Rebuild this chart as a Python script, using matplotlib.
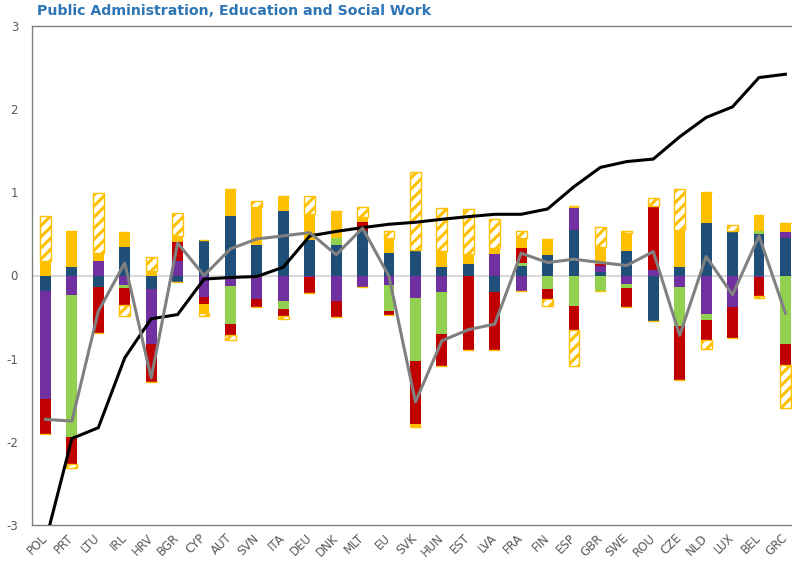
import matplotlib
matplotlib.use("Agg")
import matplotlib.pyplot as plt
import numpy as np

countries = ["POL", "PRT", "LTU", "IRL", "HRV", "BGR", "CYP", "AUT", "SVN", "ITA",
             "DEU", "DNK", "MLT", "EU", "SVK", "HUN", "EST", "LVA", "FRA", "FIN",
             "ESP", "GBR", "SWE", "ROU", "CZE", "NLD", "LUX", "BEL", "GRC"]

blue = [-0.19, 0.108, -0.136, 0.348, -0.16, -0.084, 0.43, 0.72, 0.368, 0.776,
        0.43, 0.368, 0.536, 0.276, 0.308, 0.108, 0.14, -0.20, 0.116, 0.248,
        0.548, 0.04, 0.296, -0.544, 0.10, 0.636, 0.54, 0.50, 0.448]
purple = [-1.29, -0.24, 0.176, -0.11, -0.66, 0.176, -0.26, -0.124, -0.284, -0.304,
          -0.015, -0.304, -0.144, -0.12, -0.272, -0.20, 0.0, 0.256, -0.184, 0.0,
          0.268, 0.08, -0.10, 0.068, -0.144, -0.46, -0.38, -0.024, 0.08]
green = [0.0, -1.70, 0.0, -0.046, 0.0, 0.0, 0.0, -0.46, 0.0, -0.096,
         0.0, 0.088, 0.0, -0.304, -0.758, -0.50, 0.0, 0.0, 0.04, -0.164,
         -0.372, -0.192, -0.052, 0.0, -0.468, -0.072, 0.0, 0.036, -0.824]
red = [-0.42, -0.33, -0.554, -0.204, -0.46, 0.224, -0.08, -0.126, -0.10, -0.09,
       -0.195, -0.20, 0.112, -0.048, -0.76, -0.384, -0.90, -0.70, 0.18, -0.12,
       -0.28, 0.016, -0.228, 0.768, -0.64, -0.24, -0.372, -0.228, -0.248]
orange = [0.176, 0.428, 0.092, 0.172, 0.05, 0.07, -0.11, 0.316, 0.46, 0.184,
          0.306, 0.324, 0.06, 0.18, -0.03, 0.192, 0.116, 0.072, 0.12, 0.192,
          0.024, 0.212, 0.212, 0.0, 0.448, 0.372, 0.0, 0.192, 0.10]
hatched = [0.54, -0.05, 0.722, -0.13, 0.17, 0.28, -0.04, -0.07, 0.072, -0.03,
           0.22, 0.0, 0.12, 0.08, 0.94, 0.508, 0.54, 0.348, 0.08, -0.088,
           -0.432, 0.24, 0.032, 0.10, 0.488, -0.108, 0.068, -0.02, -0.52]

gray_line = [-1.73, -1.75, -0.43, 0.15, -1.23, 0.39, 0.0, 0.32, 0.44, 0.476,
             0.516, 0.25, 0.57, -0.01, -1.52, -0.784, -0.652, -0.584, 0.268, 0.156,
             0.196, 0.156, 0.12, 0.288, -0.72, 0.228, -0.232, 0.476, -0.452]
black_line = [-3.2, -1.96, -1.83, -0.99, -0.52, -0.47, -0.043, -0.024, -0.012, 0.10,
              0.476, 0.53, 0.576, 0.616, 0.64, 0.676, 0.708, 0.736, 0.736, 0.80,
              1.068, 1.30, 1.37, 1.40, 1.668, 1.90, 2.028, 2.38, 2.42]

yticks = [-3, -2, -1, 0, 1, 2, 3]

plt.rcParams['hatch.linewidth'] = 2.2

fig = plt.figure(figsize=(7.92, 5.66), dpi=100)
ax = fig.add_axes([32/792, 1 - 525/566, 1 - 32/792, (525 - 26)/566])

x = np.arange(len(countries))
width = 0.41

ax.axhline(0, color="#D9D9D9", lw=1.5, zorder=1)

series = [
    (blue, dict(color="#1F4E79")),
    (purple, dict(color="#7030A0")),
    (green, dict(color="#92D050")),
    (red, dict(color="#C00000")),
    (orange, dict(color="#FFC000")),
    (hatched, dict(facecolor="white", edgecolor="#FFC000", hatch="///", linewidth=1.0)),
]

pos_bottom = np.zeros(len(countries))
neg_bottom = np.zeros(len(countries))
for vals, style in series:
    v = np.array(vals, dtype=float)
    pos = np.where(v > 0, v, 0.0)
    neg = np.where(v < 0, v, 0.0)
    ax.bar(x, pos, width, bottom=pos_bottom, zorder=2, **style)
    ax.bar(x, neg, width, bottom=neg_bottom, zorder=2, **style)
    pos_bottom += pos
    neg_bottom += neg

ax.plot(x, black_line, color="black", lw=2.2, zorder=4, solid_joinstyle="miter")
ax.plot(x, gray_line, color="#808080", lw=2.2, zorder=5)

ax.set_xlim(-0.51, 28.25)
ax.set_ylim(-3, 3)
ax.set_yticks(yticks)
ax.set_yticklabels([str(t) for t in yticks])
ax.set_xticks(x)
ax.set_xticklabels(countries, rotation=45, ha="right", va="center", rotation_mode="anchor")
ax.tick_params(axis="both", length=0, colors="#595959", labelsize=8.5)
ax.tick_params(axis="y", pad=10)
ax.tick_params(axis="x", pad=8)

for s in ["left", "top", "bottom"]:
    ax.spines[s].set_color("#808080")
    ax.spines[s].set_linewidth(1.0)
ax.spines["right"].set_visible(False)

fig.text(37/792, 1 - 11/566, "Public Administration, Education and Social Work",
         color="#2E75B6", fontsize=10.2, fontweight="bold", va="center", ha="left")

fig.savefig("out.png", dpi=100)
